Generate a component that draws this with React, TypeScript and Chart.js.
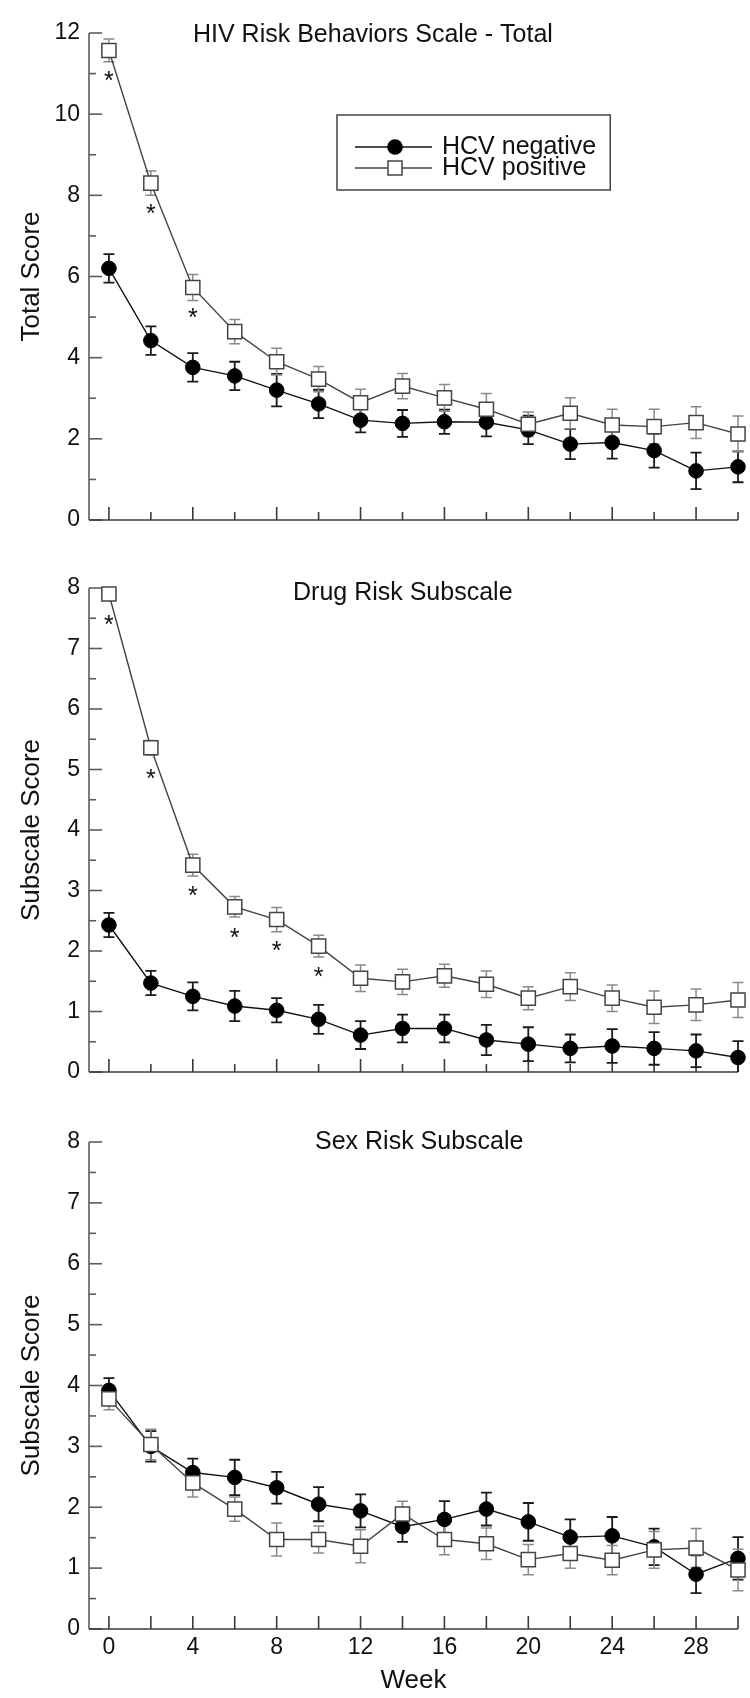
import React, { useEffect, useRef } from "react";
import { Chart, registerables } from "chart.js";

Chart.register(...registerables);

// ---------- data ----------
const weeks = [0, 2, 4, 6, 8, 10, 12, 14, 16, 18, 20, 22, 24, 26, 28, 30];
const xTickLabels = [0, 4, 8, 12, 16, 20, 24, 28];
const seriesLabels = ["HCV negative", "HCV positive"];

const totalNeg = [6.2, 4.42, 3.76, 3.55, 3.2, 2.86, 2.46, 2.38, 2.42, 2.41, 2.22, 1.87, 1.91, 1.71, 1.21, 1.31];
const totalNegErr = [0.35, 0.35, 0.35, 0.35, 0.4, 0.35, 0.3, 0.33, 0.3, 0.35, 0.35, 0.37, 0.4, 0.42, 0.45, 0.38];
const totalPos = [11.57, 8.3, 5.73, 4.64, 3.9, 3.47, 2.89, 3.3, 3.01, 2.73, 2.36, 2.63, 2.34, 2.3, 2.4, 2.12];
const totalPosErr = [0.28, 0.3, 0.32, 0.3, 0.33, 0.31, 0.33, 0.31, 0.33, 0.39, 0.3, 0.38, 0.39, 0.43, 0.39, 0.44];
const totalStars = [0, 2, 4];
const totalYTicks = [0, 2, 4, 6, 8, 10, 12];

const drugNeg = [2.43, 1.47, 1.25, 1.09, 1.02, 0.87, 0.61, 0.72, 0.72, 0.53, 0.46, 0.39, 0.43, 0.39, 0.35, 0.24];
const drugNegErr = [0.2, 0.2, 0.23, 0.25, 0.2, 0.24, 0.23, 0.23, 0.23, 0.25, 0.28, 0.23, 0.28, 0.27, 0.27, 0.27];
const drugPos = [7.9, 5.36, 3.42, 2.73, 2.52, 2.08, 1.55, 1.49, 1.59, 1.45, 1.22, 1.41, 1.22, 1.07, 1.11, 1.19];
const drugPosErr = [0.1, 0.12, 0.18, 0.17, 0.2, 0.18, 0.22, 0.21, 0.19, 0.22, 0.19, 0.23, 0.22, 0.27, 0.26, 0.29];
const drugStars = [0, 2, 4, 6, 8, 10];

const sexNeg = [3.92, 3.0, 2.57, 2.49, 2.32, 2.05, 1.94, 1.68, 1.8, 1.97, 1.76, 1.51, 1.53, 1.35, 0.9, 1.16];
const sexNegErr = [0.2, 0.25, 0.23, 0.29, 0.26, 0.28, 0.27, 0.25, 0.3, 0.27, 0.31, 0.29, 0.31, 0.3, 0.31, 0.35];
const sexPos = [3.78, 3.03, 2.4, 1.97, 1.47, 1.47, 1.36, 1.89, 1.47, 1.4, 1.14, 1.24, 1.13, 1.3, 1.33, 0.97];
const sexPosErr = [0.18, 0.25, 0.23, 0.2, 0.27, 0.22, 0.27, 0.21, 0.25, 0.26, 0.25, 0.24, 0.24, 0.3, 0.32, 0.34];
const sexStars: number[] = [];

const subYTicks = [0, 1, 2, 3, 4, 5, 6, 7, 8];

// ---------- styling ----------
const FONT = '"Liberation Sans", Arial, Helvetica, sans-serif';
const TEXT = "#111";

interface PanelCfg {
  top: number;
  height: number;
  padTop: number;
  xAxisH: number;
  yMax: number;
  yMajor: number;
  yMinor: number;
  yTicks: number[];
  yTitle: string;
  title: string;
  titleX: number;
  titleDy: number;
  neg: number[];
  negErr: number[];
  pos: number[];
  posErr: number[];
  stars: number[];
  showXLabels: boolean;
  showLegend: boolean;
  xMinorLen: number;
}

const panels: PanelCfg[] = [
  {
    top: 0, height: 545, padTop: 33, xAxisH: 25,
    yMax: 12, yMajor: 2, yMinor: 1, yTicks: totalYTicks,
    yTitle: "Total Score", title: "HIV Risk Behaviors Scale - Total", titleX: 193, titleDy: 2,
    neg: totalNeg, negErr: totalNegErr, pos: totalPos, posErr: totalPosErr,
    stars: totalStars, showXLabels: false, showLegend: true, xMinorLen: 8,
  },
  {
    top: 545, height: 550, padTop: 43, xAxisH: 23,
    yMax: 8, yMajor: 1, yMinor: 0.5, yTicks: subYTicks,
    yTitle: "Subscale Score", title: "Drug Risk Subscale", titleX: 293, titleDy: 5,
    neg: drugNeg, negErr: drugNegErr, pos: drugPos, posErr: drugPosErr,
    stars: drugStars, showXLabels: false, showLegend: false, xMinorLen: 8,
  },
  {
    top: 1095, height: 603, padTop: 47, xAxisH: 69,
    yMax: 8, yMajor: 1, yMinor: 0.5, yTicks: subYTicks,
    yTitle: "Subscale Score", title: "Sex Risk Subscale", titleX: 315, titleDy: 0,
    neg: sexNeg, negErr: sexNegErr, pos: sexPos, posErr: sexPosErr,
    stars: sexStars, showXLabels: true, showLegend: false, xMinorLen: 13,
  },
];

function makeDeco(cfg: PanelCfg) {
  return {
    id: "deco",
    beforeDatasetsDraw(chart: any) {
      const ctx = chart.ctx as CanvasRenderingContext2D;
      const ca = chart.chartArea;
      const xs = chart.scales.x;
      const ys = chart.scales.y;
      ctx.save();
      ctx.lineCap = "butt";
      // y axis line and inward ticks
      ctx.strokeStyle = "#5c5c5c";
      ctx.lineWidth = 1.6;
      ctx.beginPath();
      ctx.moveTo(ca.left, ca.top);
      ctx.lineTo(ca.left, ca.bottom);
      ctx.stroke();
      const nY = Math.round(cfg.yMax / cfg.yMinor);
      for (let k = 0; k <= nY; k++) {
        const v = k * cfg.yMinor;
        const r = v / cfg.yMajor;
        const major = Math.abs(r - Math.round(r)) < 1e-6;
        const py = ys.getPixelForValue(v);
        ctx.beginPath();
        ctx.moveTo(ca.left, py);
        ctx.lineTo(ca.left + (major ? 13 : 7), py);
        ctx.stroke();
      }
      // x axis line and inward ticks
      ctx.strokeStyle = "#3a3a3a";
      ctx.beginPath();
      ctx.moveTo(ca.left, ca.bottom);
      ctx.lineTo(ca.right, ca.bottom);
      ctx.stroke();
      weeks.forEach((w) => {
        const px = xs.getPixelForValue(w);
        const major = w % 4 === 0;
        ctx.beginPath();
        ctx.moveTo(px, ca.bottom);
        ctx.lineTo(px, ca.bottom - (major ? 13 : cfg.xMinorLen));
        ctx.stroke();
      });
      // error bars
      const drawErr = (vals: number[], errs: number[], color: string, width: number) => {
        ctx.strokeStyle = color;
        ctx.lineWidth = width;
        vals.forEach((v, i) => {
          const px = xs.getPixelForValue(weeks[i]);
          const hi = v + errs[i];
          const lo = Math.max(v - errs[i], 0);
          const yt = ys.getPixelForValue(hi);
          const yb = ys.getPixelForValue(lo);
          ctx.beginPath();
          ctx.moveTo(px, yt);
          ctx.lineTo(px, yb);
          ctx.moveTo(px - 5.5, yt);
          ctx.lineTo(px + 5.5, yt);
          if (v - errs[i] > 0) {
            ctx.moveTo(px - 5.5, yb);
            ctx.lineTo(px + 5.5, yb);
          }
          ctx.stroke();
        });
      };
      drawErr(cfg.neg, cfg.negErr, "#1a1a1a", 1.8);
      drawErr(cfg.pos, cfg.posErr, "#8a8a8a", 1.5);
      ctx.restore();
    },
    afterDatasetsDraw(chart: any) {
      const ctx = chart.ctx as CanvasRenderingContext2D;
      const ca = chart.chartArea;
      const xs = chart.scales.x;
      const ys = chart.scales.y;
      ctx.save();
      // significance asterisks
      ctx.fillStyle = TEXT;
      ctx.font = `25px ${FONT}`;
      ctx.textAlign = "center";
      ctx.textBaseline = "alphabetic";
      cfg.stars.forEach((w) => {
        const i = weeks.indexOf(w);
        const px = xs.getPixelForValue(w);
        const py = ys.getPixelForValue(cfg.pos[i]) + 25;
        ctx.fillText("*", px, py + 14);
      });
      // panel title
      ctx.font = `25px ${FONT}`;
      ctx.textAlign = "left";
      ctx.textBaseline = "middle";
      ctx.fillText(cfg.title, cfg.titleX, ca.top + cfg.titleDy);
      // legend
      if (cfg.showLegend) {
        ctx.font = `25px ${FONT}`;
        const wMax = Math.max(...seriesLabels.map((s) => ctx.measureText(s).width));
        const bx0 = 337, by0 = 115, by1 = 190;
        const bx1 = 442 + wMax + 14;
        ctx.strokeStyle = "#444";
        ctx.lineWidth = 1.5;
        ctx.strokeRect(bx0, by0, bx1 - bx0, by1 - by0);
        const rows = [
          { y: 147, neg: true, label: chart.data.datasets[1].label },
          { y: 168, neg: false, label: chart.data.datasets[0].label },
        ];
        rows.forEach((r) => {
          ctx.strokeStyle = r.neg ? "#111" : "#444";
          ctx.lineWidth = 1.4;
          ctx.beginPath();
          ctx.moveTo(355, r.y);
          ctx.lineTo(432, r.y);
          ctx.stroke();
          if (r.neg) {
            ctx.fillStyle = "#000";
            ctx.beginPath();
            ctx.arc(395, r.y, 7.8, 0, Math.PI * 2);
            ctx.fill();
          } else {
            ctx.fillStyle = "#fff";
            ctx.fillRect(388, r.y - 7, 14, 14);
            ctx.strokeStyle = "#444";
            ctx.lineWidth = 1.5;
            ctx.strokeRect(388, r.y - 7, 14, 14);
          }
          ctx.fillStyle = TEXT;
          ctx.textAlign = "left";
          ctx.textBaseline = "middle";
          ctx.fillText(r.label, 442, r.y);
        });
      }
      ctx.restore();
    },
  };
}

function Panel({ cfg }: { cfg: PanelCfg }) {
  const ref = useRef<HTMLCanvasElement | null>(null);
  useEffect(() => {
    const canvas = ref.current;
    if (!canvas) return;
    const chart = new Chart(canvas, {
      type: "line",
      data: {
        datasets: [
          {
            label: seriesLabels[1],
            data: weeks.map((w, i) => ({ x: w, y: cfg.pos[i] })),
            borderColor: "#444",
            borderWidth: 1.4,
            pointStyle: "rect",
            pointRadius: 10,
            pointBackgroundColor: "#fff",
            pointBorderColor: "#444",
            pointBorderWidth: 1.5,
            tension: 0,
            fill: false,
            clip: false,
            order: 0,
          } as any,
          {
            label: seriesLabels[0],
            data: weeks.map((w, i) => ({ x: w, y: cfg.neg[i] })),
            borderColor: "#111",
            borderWidth: 1.4,
            pointStyle: "circle",
            pointRadius: 7.3,
            pointBackgroundColor: "#000",
            pointBorderColor: "#000",
            pointBorderWidth: 1,
            tension: 0,
            fill: false,
            clip: false,
            order: 1,
          } as any,
        ],
      },
      options: {
        responsive: false,
        animation: false,
        devicePixelRatio: 1,
        events: [],
        layout: { padding: { top: cfg.padTop, right: 12, left: 0, bottom: 0 } },
        plugins: { legend: { display: false }, tooltip: { enabled: false } },
        scales: {
          x: {
            type: "linear",
            min: -0.95,
            max: 30,
            afterFit: (s: any) => {
              s.height = cfg.xAxisH;
            },
            afterBuildTicks: (s: any) => {
              s.ticks = xTickLabels.map((v) => ({ value: v }));
            },
            grid: { display: false, drawTicks: false },
            border: { display: false },
            ticks: {
              display: cfg.showXLabels,
              padding: 5,
              maxRotation: 0,
              autoSkip: false,
              color: TEXT,
              font: { family: FONT, size: 23 },
              callback: (v: any) => String(v),
            },
            title: {
              display: cfg.showXLabels,
              text: "Week",
              color: TEXT,
              font: { family: FONT, size: 26 },
              padding: { top: 0, bottom: 2 },
            },
          },
          y: {
            type: "linear",
            min: 0,
            max: cfg.yMax,
            afterFit: (s: any) => {
              s.width = 89;
            },
            afterBuildTicks: (s: any) => {
              s.ticks = cfg.yTicks.map((v) => ({ value: v }));
            },
            grid: { display: false, drawTicks: false },
            border: { display: false },
            ticks: {
              padding: 9,
              color: TEXT,
              font: { family: FONT, size: 23 },
              callback: (v: any) => String(v),
            },
            title: {
              display: true,
              text: cfg.yTitle,
              color: TEXT,
              font: { family: FONT, size: 26 },
              padding: { top: 16, bottom: 0 },
            },
          },
        },
      },
      plugins: [makeDeco(cfg)],
    });
    return () => chart.destroy();
  }, [cfg]);
  return (
    <canvas
      ref={ref}
      width={750}
      height={cfg.height}
      style={{ position: "absolute", left: 0, top: cfg.top, width: 750, height: cfg.height, display: "block" }}
    />
  );
}

export default function App() {
  return (
    <div style={{ position: "absolute", left: 0, top: 0, width: 750, height: 1698, background: "#fff", overflow: "hidden" }}>
      {panels.map((p, i) => (
        <Panel key={i} cfg={p} />
      ))}
    </div>
  );
}
